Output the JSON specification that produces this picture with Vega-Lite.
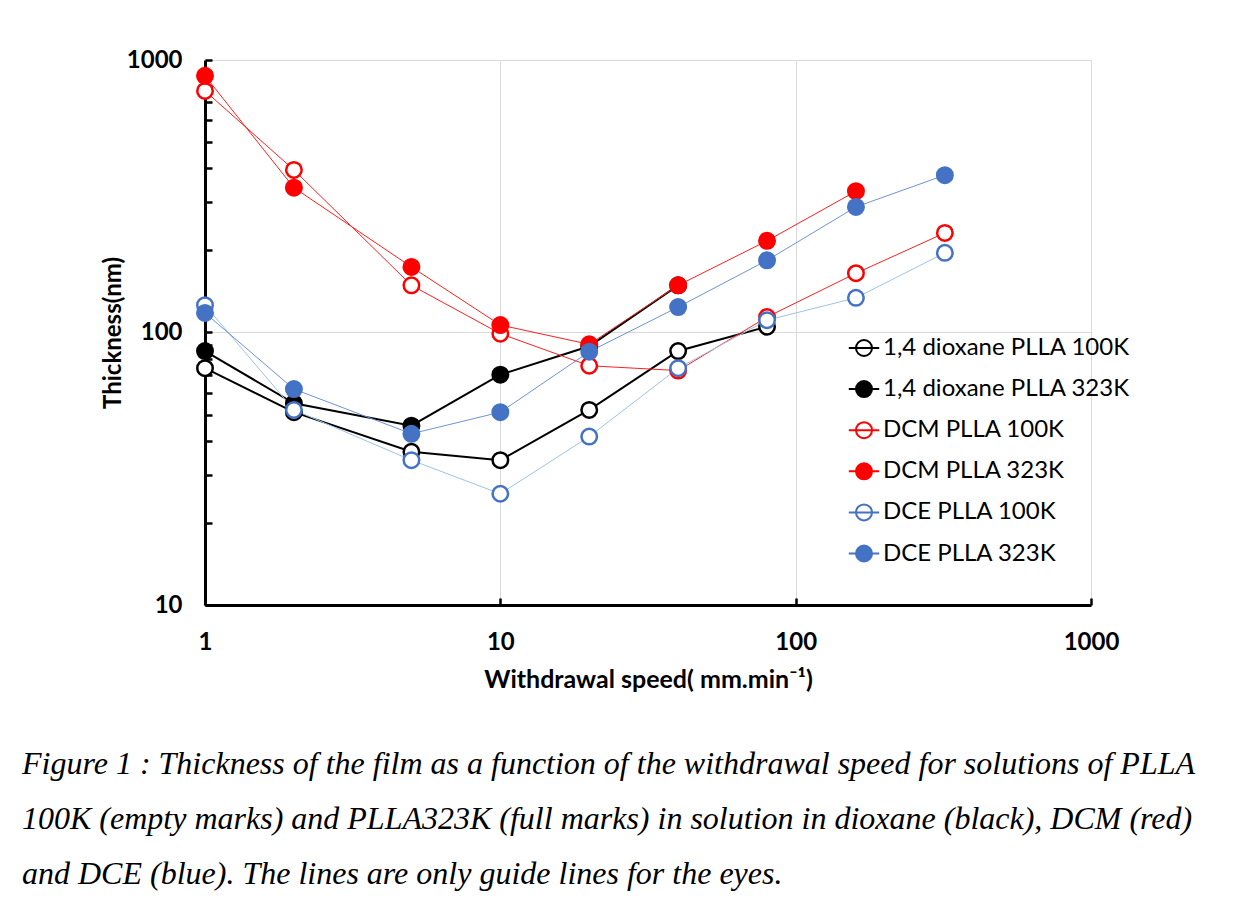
{
  "$schema": "https://vega.github.io/schema/vega-lite/v6.json",
  "autosize": {"type": "none"},
  "width": 886,
  "height": 545,
  "padding": {"left": 205, "top": 60, "right": 154, "bottom": 299},
  "background": "white",
  "config": {"view": {"stroke": null}, "font": "Lato"},
  "title": {
    "text": [
      "Figure 1 : Thickness of the film as a function of the withdrawal speed for solutions of PLLA",
      "100K (empty marks) and PLLA323K (full marks) in solution in dioxane (black), DCM (red)",
      "and DCE (blue). The lines are only guide lines for the eyes."
    ],
    "orient": "bottom",
    "anchor": "start",
    "frame": "group",
    "font": "Liberation Serif",
    "fontStyle": "italic",
    "fontWeight": "normal",
    "fontSize": 32,
    "lineHeight": 55,
    "color": "black",
    "dx": -183,
    "offset": 57
  },
  "data": {
    "values": [
      {"speed": 1, "thickness": 74, "series": "1,4 dioxane PLLA 100K"},
      {"speed": 2, "thickness": 51, "series": "1,4 dioxane PLLA 100K"},
      {"speed": 5, "thickness": 36.5, "series": "1,4 dioxane PLLA 100K"},
      {"speed": 10, "thickness": 34, "series": "1,4 dioxane PLLA 100K"},
      {"speed": 20, "thickness": 52, "series": "1,4 dioxane PLLA 100K"},
      {"speed": 40, "thickness": 85.5, "series": "1,4 dioxane PLLA 100K"},
      {"speed": 80, "thickness": 105, "series": "1,4 dioxane PLLA 100K"},
      {"speed": 1, "thickness": 85.5, "series": "1,4 dioxane PLLA 323K"},
      {"speed": 2, "thickness": 55, "series": "1,4 dioxane PLLA 323K"},
      {"speed": 5, "thickness": 45.5, "series": "1,4 dioxane PLLA 323K"},
      {"speed": 10, "thickness": 70, "series": "1,4 dioxane PLLA 323K"},
      {"speed": 20, "thickness": 89, "series": "1,4 dioxane PLLA 323K"},
      {"speed": 40, "thickness": 149, "series": "1,4 dioxane PLLA 323K"},
      {"speed": 1, "thickness": 770, "series": "DCM PLLA 100K"},
      {"speed": 2, "thickness": 395, "series": "DCM PLLA 100K"},
      {"speed": 5, "thickness": 149, "series": "DCM PLLA 100K"},
      {"speed": 10, "thickness": 99, "series": "DCM PLLA 100K"},
      {"speed": 20, "thickness": 75.5, "series": "DCM PLLA 100K"},
      {"speed": 40, "thickness": 72.5, "series": "DCM PLLA 100K"},
      {"speed": 80, "thickness": 114, "series": "DCM PLLA 100K"},
      {"speed": 160, "thickness": 165, "series": "DCM PLLA 100K"},
      {"speed": 320, "thickness": 232, "series": "DCM PLLA 100K"},
      {"speed": 1, "thickness": 875, "series": "DCM PLLA 323K"},
      {"speed": 2, "thickness": 340, "series": "DCM PLLA 323K"},
      {"speed": 5, "thickness": 174, "series": "DCM PLLA 323K"},
      {"speed": 10, "thickness": 106.5, "series": "DCM PLLA 323K"},
      {"speed": 20, "thickness": 90.5, "series": "DCM PLLA 323K"},
      {"speed": 40, "thickness": 149, "series": "DCM PLLA 323K"},
      {"speed": 80, "thickness": 217, "series": "DCM PLLA 323K"},
      {"speed": 160, "thickness": 330, "series": "DCM PLLA 323K"},
      {"speed": 1, "thickness": 126, "series": "DCE PLLA 100K"},
      {"speed": 2, "thickness": 52, "series": "DCE PLLA 100K"},
      {"speed": 5, "thickness": 34, "series": "DCE PLLA 100K"},
      {"speed": 10, "thickness": 25.6, "series": "DCE PLLA 100K"},
      {"speed": 20, "thickness": 41.5, "series": "DCE PLLA 100K"},
      {"speed": 40, "thickness": 74, "series": "DCE PLLA 100K"},
      {"speed": 80, "thickness": 111, "series": "DCE PLLA 100K"},
      {"speed": 160, "thickness": 134, "series": "DCE PLLA 100K"},
      {"speed": 320, "thickness": 196, "series": "DCE PLLA 100K"},
      {"speed": 1, "thickness": 118, "series": "DCE PLLA 323K"},
      {"speed": 2, "thickness": 62, "series": "DCE PLLA 323K"},
      {"speed": 5, "thickness": 42.5, "series": "DCE PLLA 323K"},
      {"speed": 10, "thickness": 51, "series": "DCE PLLA 323K"},
      {"speed": 20, "thickness": 85, "series": "DCE PLLA 323K"},
      {"speed": 40, "thickness": 124, "series": "DCE PLLA 323K"},
      {"speed": 80, "thickness": 184, "series": "DCE PLLA 323K"},
      {"speed": 160, "thickness": 289, "series": "DCE PLLA 323K"},
      {"speed": 320, "thickness": 378, "series": "DCE PLLA 323K"}
    ]
  },
  "encoding": {
    "x": {
      "field": "speed",
      "type": "quantitative",
      "scale": {"type": "log", "domain": [1, 1000], "nice": false},
      "axis": {
        "values": [1, 10, 100, 1000],
        "format": "d",
        "title": "Withdrawal speed( mm.min⁻¹)",
        "grid": true,
        "gridColor": "#D9D9D9",
        "gridWidth": 1,
        "domainColor": "black",
        "domainWidth": 3,
        "tickColor": "black",
        "tickWidth": 2.5,
        "tickSize": -7,
        "labelFont": "Lato",
        "labelFontWeight": "bold",
        "labelFontSize": 24,
        "labelColor": "black",
        "labelPadding": 32,
        "labelFlush": false,
        "titleFont": "Lato",
        "titleFontWeight": "bold",
        "titleFontSize": 25,
        "titleColor": "black",
        "titlePadding": 13
      }
    },
    "y": {
      "field": "thickness",
      "type": "quantitative",
      "scale": {"type": "log", "domain": [10, 1000], "nice": false},
      "axis": {
        "values": [10, 20, 30, 40, 50, 60, 70, 80, 90, 100, 200, 300, 400, 500, 600, 700, 800, 900, 1000],
        "format": "d",
        "labelExpr": "datum.value == 10 || datum.value == 100 || datum.value == 1000 ? datum.label : ''",
        "title": "Thickness(nm)",
        "grid": true,
        "gridColor": "#D9D9D9",
        "gridWidth": 1,
        "gridOpacity": {"condition": {"test": "datum.value == 100 || datum.value == 1000", "value": 1}, "value": 0},
        "domainColor": "black",
        "domainWidth": 3,
        "tickColor": "black",
        "tickWidth": 2.5,
        "tickSize": -7,
        "labelFont": "Lato",
        "labelFontWeight": "bold",
        "labelFontSize": 24,
        "labelColor": "black",
        "labelPadding": 30,
        "titleFont": "Lato",
        "titleFontWeight": "bold",
        "titleFontSize": 24,
        "titleColor": "black",
        "titlePadding": 1
      }
    }
  },
  "layer": [
    {
      "transform": [{"filter": "indexof(datum.series, 'dioxane') >= 0"}],
      "mark": {"type": "line", "strokeWidth": 2},
      "encoding": {
        "stroke": {
          "field": "series",
          "type": "nominal",
          "scale": {
            "range": ["#000000", "#000000", "#9DC3E6", "#6F93D6", "#FF2020", "#FF2020"]
          },
          "legend": null
        }
      }
    },
    {
      "transform": [{"filter": "indexof(datum.series, 'dioxane') < 0"}],
      "mark": {"type": "line", "strokeWidth": 1},
      "encoding": {
        "stroke": {"field": "series", "type": "nominal", "legend": null}
      }
    },
    {
      "mark": {"type": "point", "shape": "circle", "filled": false, "size": 240, "strokeWidth": 2.5, "opacity": 1},
      "encoding": {
        "color": {
          "field": "series",
          "type": "nominal",
          "scale": {
            "domain": ["1,4 dioxane PLLA 100K", "1,4 dioxane PLLA 323K", "DCM PLLA 100K", "DCM PLLA 323K", "DCE PLLA 100K", "DCE PLLA 323K"],
            "range": ["#000000", "#000000", "#FF0000", "#FF0000", "#4472C4", "#4472C4"]
          },
          "legend": {
            "title": null,
            "orient": "none",
            "legendX": 647,
            "legendY": 276,
            "padding": 0,
            "symbolType": "M-1.9,0L1.9,0M1,0A1,1 0 1 1 -1,0A1,1 0 1 1 1,0Z",
            "symbolSize": 256,
            "symbolStrokeWidth": 2,
            "labelFont": "Lato",
            "labelFontSize": 24,
            "labelColor": "black",
            "labelLimit": 0,
            "labelOffset": 7,
            "rowPadding": 17.1
          }
        },
        "fill": {
          "field": "series",
          "type": "nominal",
          "scale": {
            "domain": ["1,4 dioxane PLLA 100K", "1,4 dioxane PLLA 323K", "DCM PLLA 100K", "DCM PLLA 323K", "DCE PLLA 100K", "DCE PLLA 323K"],
            "range": ["#FFFFFF", "#000000", "#FFFFFF", "#FF0000", "#FFFFFF", "#4472C4"]
          },
          "legend": {
            "title": null,
            "orient": "none",
            "legendX": 647,
            "legendY": 276,
            "padding": 0,
            "symbolType": "M-1.9,0L1.9,0M1,0A1,1 0 1 1 -1,0A1,1 0 1 1 1,0Z",
            "symbolSize": 256,
            "symbolStrokeWidth": 2,
            "labelFont": "Lato",
            "labelFontSize": 24,
            "labelColor": "black",
            "labelLimit": 0,
            "labelOffset": 7,
            "rowPadding": 17.1
          }
        }
      }
    }
  ]
}
